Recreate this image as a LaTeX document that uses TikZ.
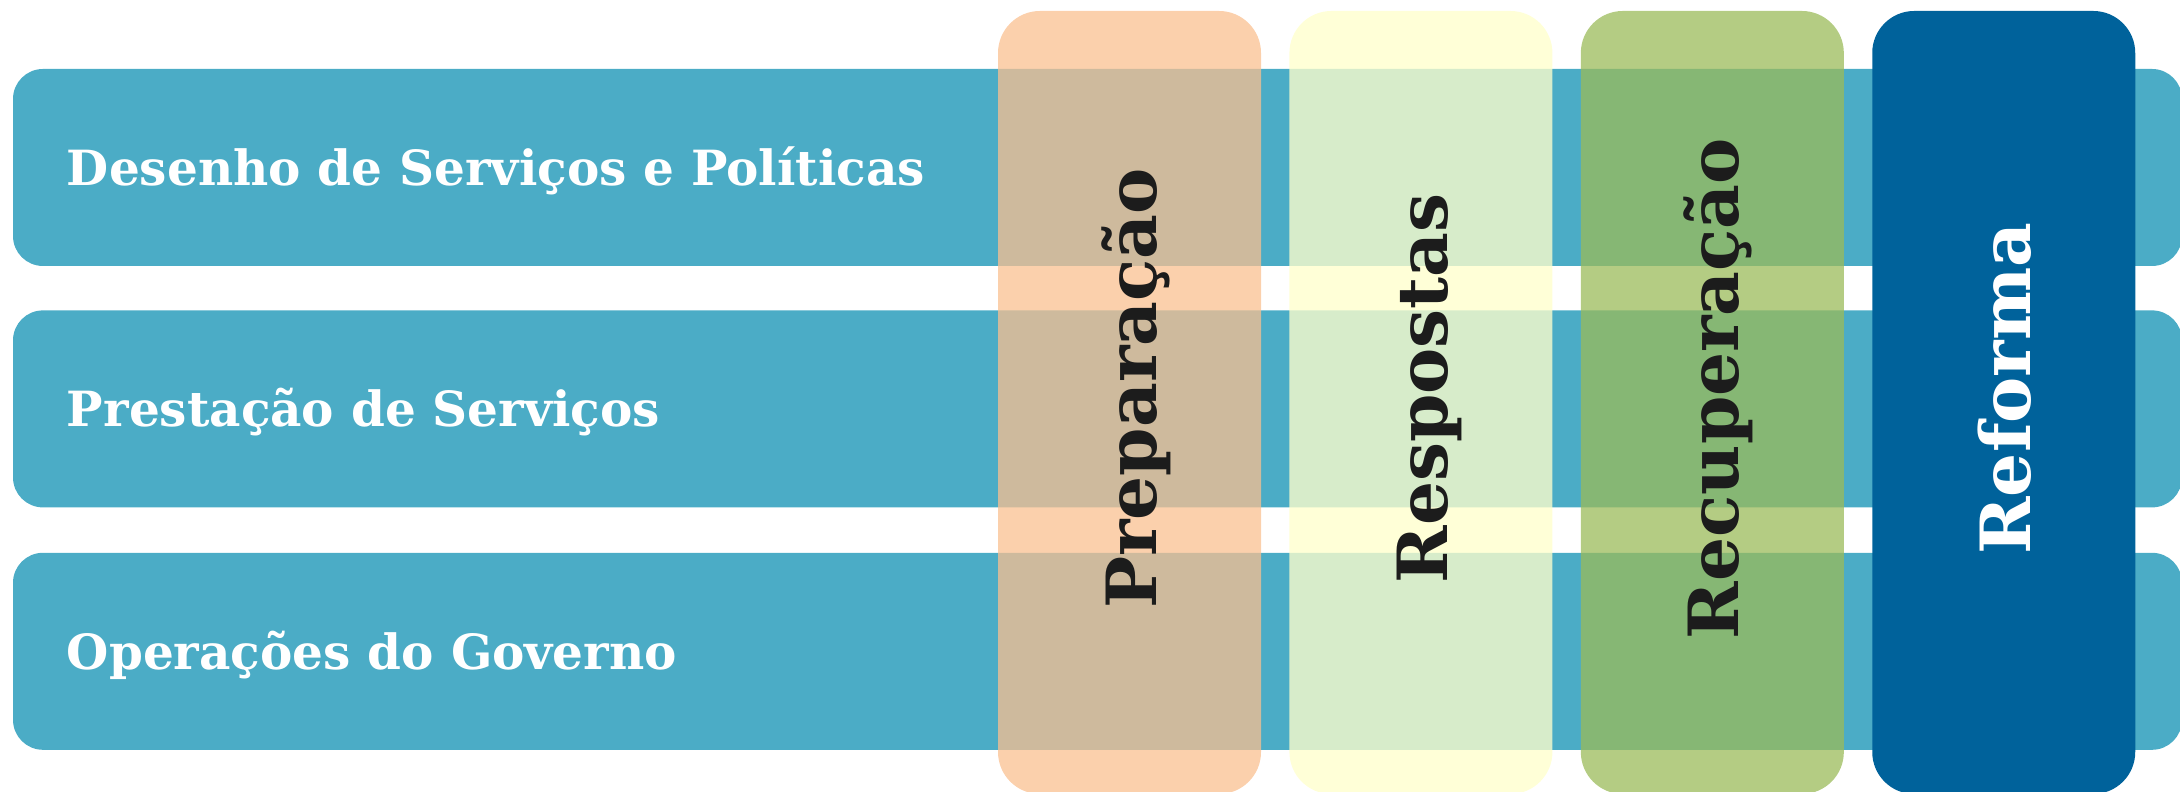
\documentclass[tikz,border=0pt]{standalone}
\usepackage{fontspec}
\setmainfont{DejaVu Serif}
\usetikzlibrary{positioning}

\definecolor{stripblue}{HTML}{4BACC6}
\definecolor{prepfill}{HTML}{FAC090}
\definecolor{respfill}{HTML}{FFFFCC}
\definecolor{recfill}{HTML}{9BBB59}
\definecolor{reffill}{HTML}{00629B}
\definecolor{inkdark}{HTML}{1C1C1C}

\begin{document}
\begin{tikzpicture}[
	strip/.style={fill=stripblue,rounded corners=0.3cm,inner sep=0,minimum width=21.69cm,minimum height=1.97cm},
	striplabel/.style={anchor=west,text=white,font=\bfseries\fontsize{13.8}{16}\selectfont,text height=0.36cm,text depth=0pt,inner sep=0},
	phase/.style={rounded corners=0.42cm,inner sep=0,minimum width=2.63cm,minimum height=7.83cm},
	phaselabel/.style={rotate=90,font=\bfseries\fontsize{19.7}{22}\selectfont,text=inkdark,text height=0.53cm,text depth=0pt,inner sep=0}
]
	\useasboundingbox (0,0) rectangle (21.8,7.92);
	% three horizontal strips
	\node[strip] (design) at (10.975,6.245) {};
	\node[strip,below=0.43cm of design] (delivery) {};
	\node[strip,below=0.44cm of delivery] (ops) {};
	\node[striplabel] (design-t) at ([xshift=0.54cm]design.west) {Desenho de Serviços e Políticas};
	\node[striplabel] (delivery-t) at ([xshift=0.54cm]delivery.west) {Prestação de Serviços};
	\node[striplabel] (ops-t) at ([xshift=0.54cm]ops.west) {Operações do Governo};
	% four phase columns on top
	\node[phase,fill=prepfill,fill opacity=0.75] (prep) at (11.295,3.895) {};
	\node[phase,fill=respfill,fill opacity=0.78,right=0.27cm of prep] (resp) {};
	\node[phase,fill=recfill,fill opacity=0.75,right=0.27cm of resp] (rec) {};
	\node[phase,fill=reffill,right=0.27cm of rec] (ref) {};
	\node[phaselabel] (prep-t) at ([yshift=0.14cm]prep.center) {Preparação};
	\node[phaselabel] (resp-t) at ([yshift=0.14cm]resp.center) {Respostas};
	\node[phaselabel] (rec-t) at ([yshift=0.14cm]rec.center) {Recuperação};
	\node[phaselabel,text=white] (ref-t) at ([yshift=0.14cm]ref.center) {Reforma};
\end{tikzpicture}
\end{document}
